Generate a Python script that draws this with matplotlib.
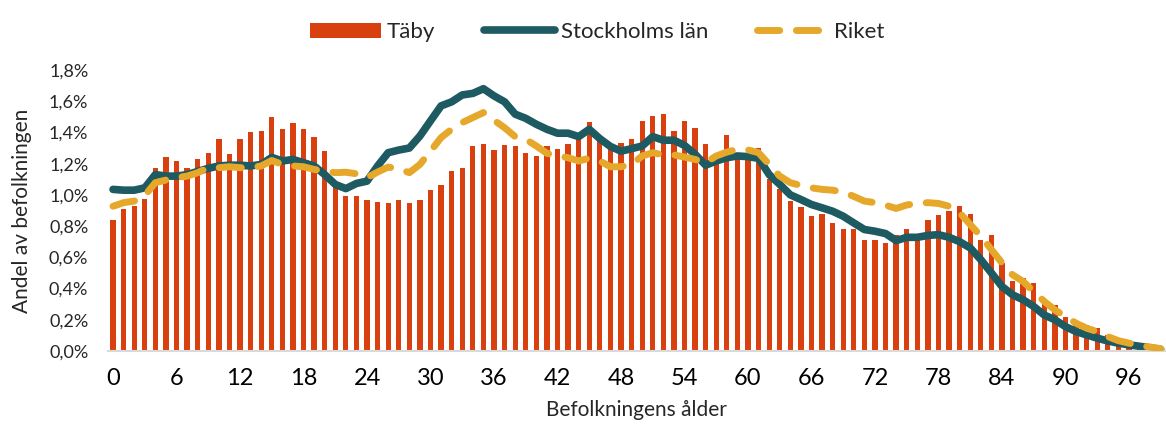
import matplotlib
matplotlib.use("Agg")
import matplotlib.pyplot as plt
import numpy as np
from matplotlib.ticker import FuncFormatter, MultipleLocator

# --- data (andel av befolkningen, %) ---
ages = list(range(100))

taby = [0.84, 0.91, 0.93, 0.975, 1.17, 1.24, 1.22, 1.17, 1.23, 1.27,
        1.36, 1.26, 1.36, 1.40, 1.41, 1.50, 1.42, 1.46, 1.42, 1.37,
        1.28, 1.05, 0.99, 0.99, 0.97, 0.955, 0.95, 0.97, 0.95, 0.97,
        1.03, 1.065, 1.15, 1.17, 1.315, 1.325, 1.29, 1.32, 1.31, 1.265,
        1.25, 1.31, 1.295, 1.325, 1.355, 1.465, 1.38, 1.30, 1.33, 1.355,
        1.47, 1.505, 1.515, 1.41, 1.475, 1.43, 1.325, 1.21, 1.385, 1.27,
        1.26, 1.30, 1.10, 1.035, 0.96, 0.925, 0.865, 0.88, 0.82, 0.78,
        0.78, 0.71, 0.71, 0.69, 0.745, 0.78, 0.72, 0.84, 0.87, 0.895,
        0.93, 0.88, 0.71, 0.74, 0.565, 0.45, 0.465, 0.435, 0.30, 0.295,
        0.22, 0.165, 0.165, 0.145, 0.10, 0.05, 0.04, 0.02, 0.01, 0.005]

stockholm = [1.035, 1.03, 1.03, 1.045, 1.13, 1.12, 1.12, 1.13, 1.15, 1.17,
             1.185, 1.19, 1.19, 1.185, 1.195, 1.24, 1.217, 1.227, 1.206, 1.185,
             1.13, 1.067, 1.04, 1.073, 1.088, 1.185, 1.27, 1.287, 1.30, 1.377,
             1.474, 1.57, 1.596, 1.64, 1.65, 1.68, 1.634, 1.596, 1.517, 1.49,
             1.452, 1.42, 1.395, 1.395, 1.373, 1.42, 1.36, 1.31, 1.28, 1.296,
             1.313, 1.373, 1.35, 1.35, 1.317, 1.26, 1.19, 1.217, 1.238, 1.249,
             1.245, 1.234, 1.13, 1.067, 1.0, 0.97, 0.938, 0.917, 0.895, 0.863,
             0.82, 0.778, 0.767, 0.752, 0.707, 0.728, 0.728, 0.74, 0.745, 0.728,
             0.70, 0.66, 0.585, 0.50, 0.413, 0.36, 0.328, 0.285, 0.23, 0.20,
             0.156, 0.124, 0.103, 0.082, 0.064, 0.05, 0.039, 0.03, 0.02, 0.01]

riket = [0.927, 0.95, 0.96, 0.996, 1.078, 1.095, 1.11, 1.12, 1.142, 1.174,
         1.174, 1.18, 1.174, 1.174, 1.185, 1.22, 1.195, 1.185, 1.18, 1.163,
         1.152, 1.142, 1.145, 1.135, 1.11, 1.146, 1.178, 1.167, 1.142, 1.195,
         1.28, 1.367, 1.42, 1.463, 1.495, 1.527, 1.478, 1.43, 1.373, 1.356,
         1.313, 1.266, 1.249, 1.238, 1.217, 1.235, 1.217, 1.18, 1.18, 1.195,
         1.249, 1.27, 1.256, 1.256, 1.242, 1.227, 1.206, 1.249, 1.274, 1.292,
         1.288, 1.27, 1.195, 1.12, 1.078, 1.06, 1.045, 1.035, 1.03, 1.017,
         0.99, 0.96, 0.95, 0.934, 0.913, 0.935, 0.945, 0.95, 0.945, 0.927,
         0.885, 0.81, 0.735, 0.65, 0.564, 0.488, 0.445, 0.381, 0.317, 0.263,
         0.22, 0.178, 0.146, 0.124, 0.092, 0.066, 0.05, 0.035, 0.025, 0.015]

series_names = ["Täby", "Stockholms län", "Riket"]

# --- colours / fonts ---
red = "#d9400f"
teal = "#1e5a61"
gold = "#e6a82a"
txt = "#262626"
fam = ["Lato", "DejaVu Sans"]

fig = plt.figure(figsize=(11.66, 4.28), dpi=100)
ax = fig.add_axes([0.0924, 0.18, 0.9076, 0.6565])

bars = ax.bar(ages, taby, width=0.5, color=red, label=series_names[0], zorder=1)
l1, = ax.plot(ages, stockholm, color=teal, lw=5.5, solid_capstyle="round",
              solid_joinstyle="round", label=series_names[1], zorder=2)
l2, = ax.plot(ages, riket, color=gold, lw=5, dashes=(3.2, 2.4), dash_capstyle="round",
              label=series_names[2], zorder=3)

ax.set_xlim(-0.5, 99.5)
ax.set_ylim(0, 1.8)
ax.yaxis.set_major_locator(MultipleLocator(0.2))
ax.yaxis.set_major_formatter(FuncFormatter(lambda v, p: f"{v:.1f}%".replace(".", ",")))
ax.set_xticks(range(0, 100, 6))

for s in ["top", "right", "left"]:
    ax.spines[s].set_visible(False)
ax.spines["bottom"].set_color("#d9d9d9")
ax.spines["bottom"].set_linewidth(1.5)
ax.tick_params(axis="both", length=0)
ax.tick_params(axis="x", pad=12)
ax.tick_params(axis="y", pad=14)

for lab in ax.get_xticklabels():
    lab.set_fontfamily(fam)
    lab.set_fontsize(17)
    lab.set_color("black")
for lab in ax.get_yticklabels():
    lab.set_fontfamily(fam)
    lab.set_fontsize(13)
    lab.set_color(txt)

ax.set_xlabel("Befolkningens ålder", fontsize=15, color=txt, labelpad=8, family=fam)
ax.set_ylabel("Andel av befolkningen", fontsize=15, color=txt, labelpad=12, family=fam)

leg = fig.legend([bars, l1, l2], series_names, loc="upper center",
                 bbox_to_anchor=(0.512, 0.995), ncol=3, frameon=False,
                 handlelength=3.2, columnspacing=2.2, handletextpad=0.25,
                 prop={"family": fam, "size": 16})
for t in leg.get_texts():
    t.set_color(txt)

fig.savefig("out.png", dpi=100)
